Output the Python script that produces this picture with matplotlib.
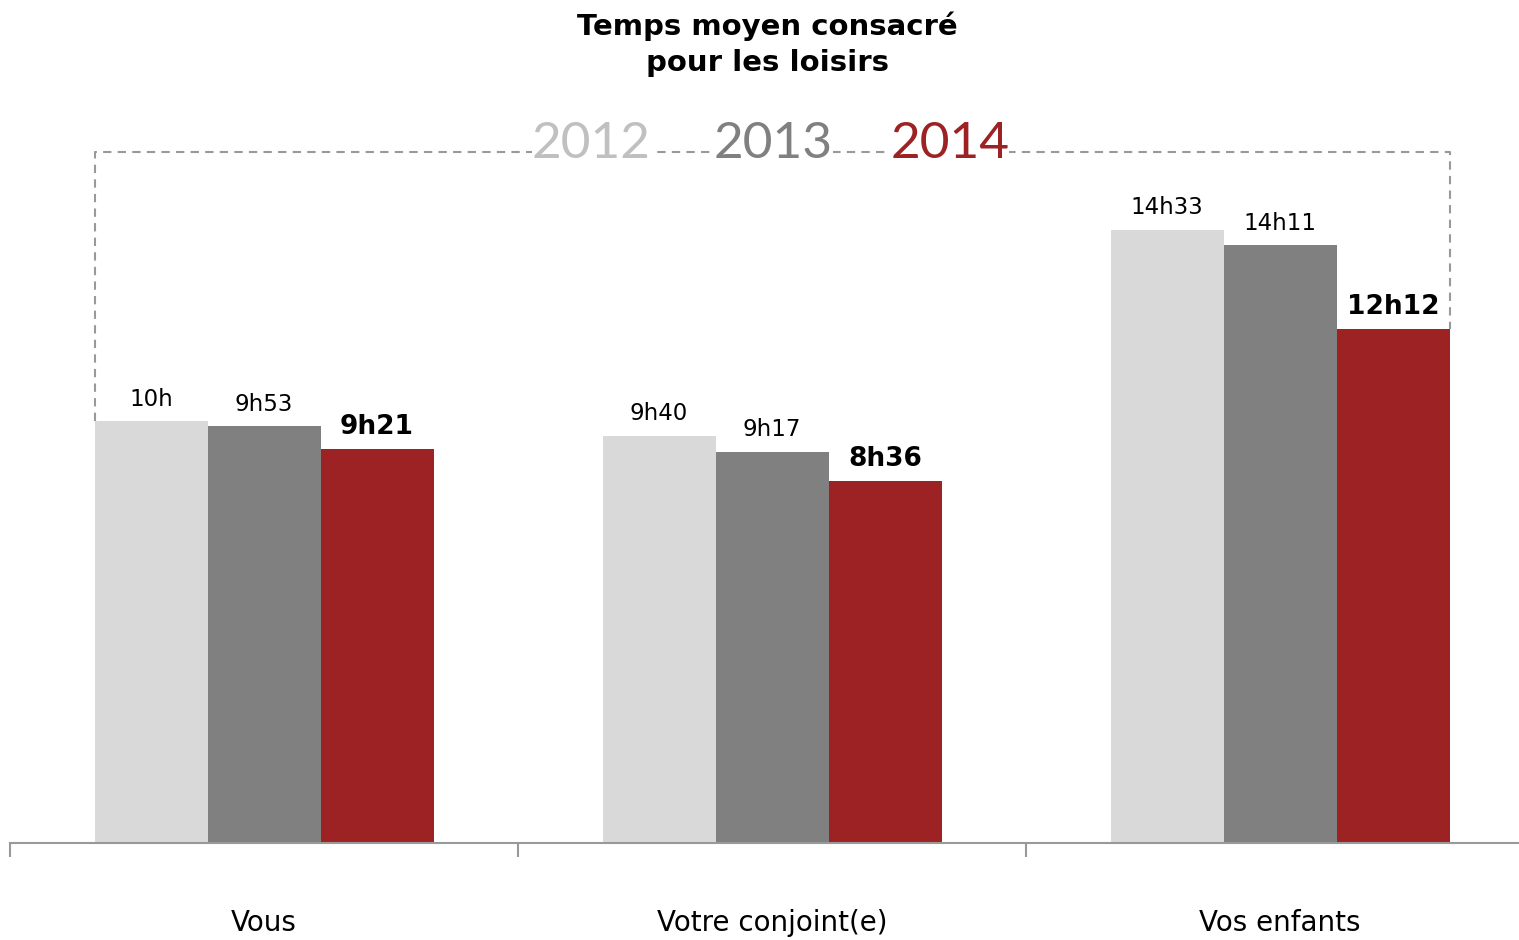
import matplotlib
matplotlib.use('Agg')
import matplotlib.pyplot as plt
import numpy as np

# data (hours)
categories = ['Vous', 'Votre conjoint(e)', 'Vos enfants']
years = ['2012', '2013', '2014']
v2012 = [10.0, 9 + 40 / 60, 14 + 33 / 60]
v2013 = [9 + 53 / 60, 9 + 17 / 60, 14 + 11 / 60]
v2014 = [9 + 21 / 60, 8 + 36 / 60, 12 + 12 / 60]
lab2012 = ['10h', '9h40', '14h33']
lab2013 = ['9h53', '9h17', '14h11']
lab2014 = ['9h21', '8h36', '12h12']

colors = ['#D9D9D9', '#808080', '#9C2224']
year_colors = ['#C0C0C0', '#808080', '#9C2224']

W, H = 1519, 940
fig = plt.figure(figsize=(W / 100, H / 100), dpi=100)
ax = fig.add_axes([10 / W, (H - 843) / H, 1509 / W, 843 / H])

x = np.arange(len(categories))
w = 113 / 508
series = [v2012, v2013, v2014]
labels = [lab2012, lab2013, lab2014]
for k, (vals, labs) in enumerate(zip(series, labels)):
    xs = x + (k - 1) * w
    ax.bar(xs, vals, width=w, color=colors[k], zorder=2)
    for xi, v, t in zip(xs, vals, labs):
        if k == 2:
            ax.text(xi, v + 0.2, t, ha='center', va='bottom', fontsize=19,
                    fontweight='bold', color='black')
        else:
            ax.text(xi, v + 0.25, t, ha='center', va='bottom', fontsize=16.5,
                    color='black')

# dashed bracket over the bars
ytop = (843 - 152) / 843 * 20
xl = x[0] - 1.5 * w
xr = x[-1] + 1.5 * w
ax.plot([xl, xl, xr, xr], [v2012[0], ytop, ytop, v2014[-1]],
        color='#999999', ls=(0, (4, 3)), lw=1.5, zorder=1)

# year legend sitting on the dashed line
year_x = [591, 773, 950]
for yx, yr, c in zip(year_x, years, year_colors):
    fig.text(yx / W, (H - 158) / H, yr, ha='center', va='baseline',
             fontsize=37, color=c, family='Lato',
             bbox=dict(facecolor='white', edgecolor='none', pad=0))

# axes styling
for s in ['top', 'right', 'left']:
    ax.spines[s].set_visible(False)
ax.spines['bottom'].set_color('#999999')
ax.spines['bottom'].set_linewidth(1.5)
ax.set_yticks([])
ax.set_xticks(np.arange(-0.5, 3, 1))
ax.set_xticklabels([])
ax.tick_params(axis='x', length=10, width=1.5, color='#999999')
ax.set_xlim(-0.5, -0.5 + 1509 / 508)
ax.set_ylim(0, 20)
for xi, c in zip(x, categories):
    ax.text(xi, -1.9, c, ha='center', va='center', fontsize=20)

fig.text(767 / W, (H - 44) / H, 'Temps moyen consacré\npour les loisirs',
         ha='center', va='center', fontsize=21, fontweight='bold',
         linespacing=1.35)

fig.savefig('out.png', dpi=100)
